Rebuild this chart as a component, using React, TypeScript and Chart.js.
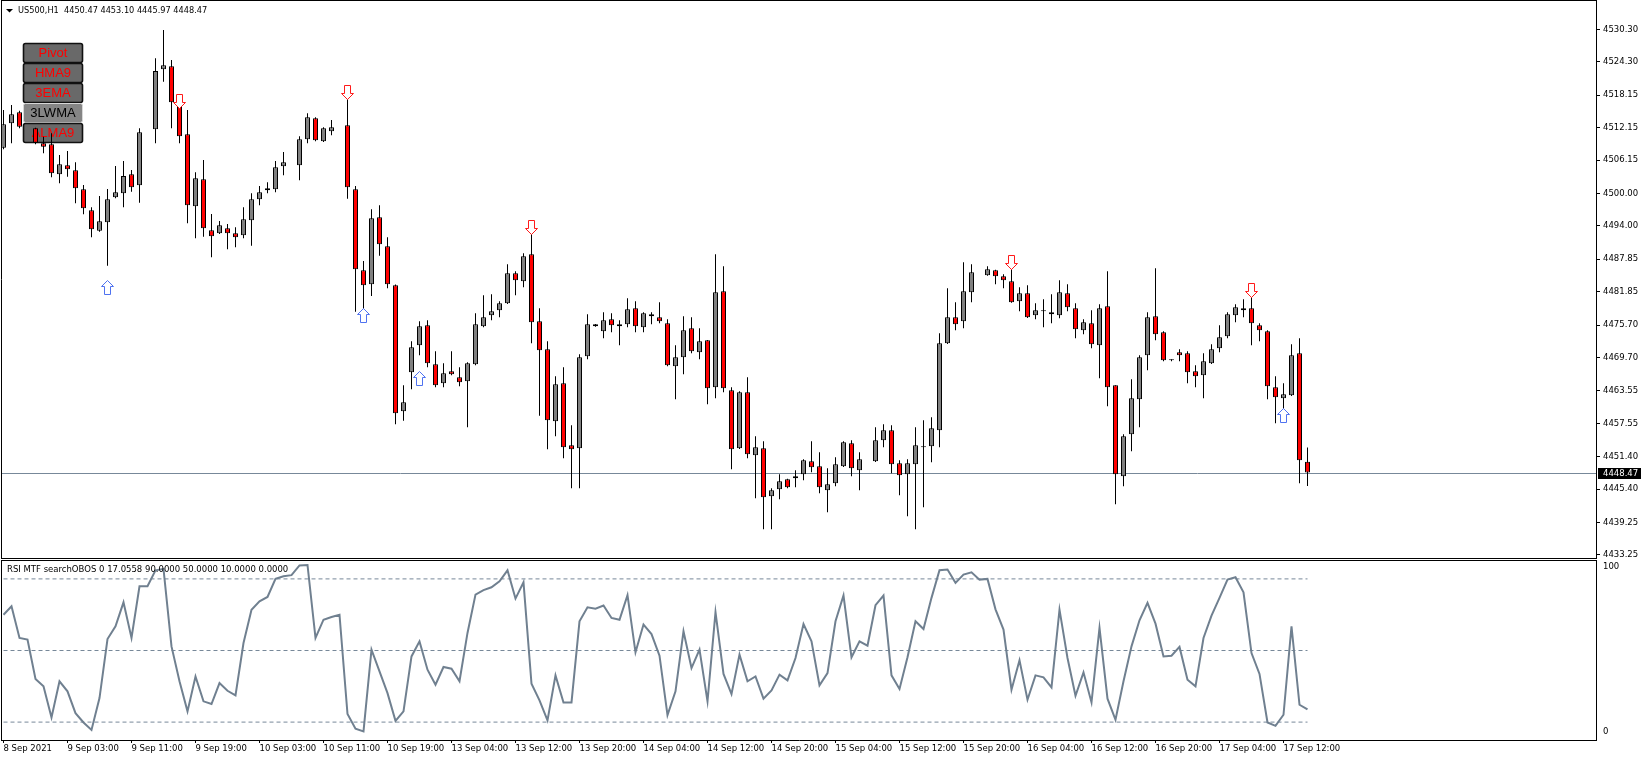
import React, { useEffect, useRef } from 'react';
import { Chart, registerables } from 'chart.js';
Chart.register(...registerables);

const FONT = '"DejaVu Sans", "Noto Sans", sans-serif';
const W = 1646;
const AXIS_W = 50;
const MAIN_H = 559;
const RSI_TOP = 559;
const RSI_H = 202;

const chartTitle = 'US500,H1  4450.47 4453.10 4445.97 4448.47';
const rsiTitle = 'RSI MTF searchOBOS 0 17.0558 90.0000 50.0000 10.0000 0.0000';

const LABEL_STEP = 8;
const timeLabels = [
  '8 Sep 2021', '9 Sep 03:00', '9 Sep 11:00', '9 Sep 19:00', '10 Sep 03:00', '10 Sep 11:00',
  '10 Sep 19:00', '13 Sep 04:00', '13 Sep 12:00', '13 Sep 20:00', '14 Sep 04:00', '14 Sep 12:00',
  '14 Sep 20:00', '15 Sep 04:00', '15 Sep 12:00', '15 Sep 20:00', '16 Sep 04:00', '16 Sep 12:00',
  '16 Sep 20:00', '17 Sep 04:00', '17 Sep 12:00',
];

const priceTicks = [4530.30, 4524.30, 4518.15, 4512.15, 4506.15, 4500.00, 4494.00, 4487.85, 4481.85,
  4475.70, 4469.70, 4463.55, 4457.55, 4451.40, 4445.40, 4439.25, 4433.25];
const priceMin = 4432.68;
const priceMax = 4535.55;

// H1 candles (null = doji drawn invisibly in the source)
const opens = [
  4508.46, 4512.96, 4514.99, null, 4512.03, 4509.26, 4509.08, 4503.54, 4505.20, 4504.28,
  4500.77, 4496.89, 4493.14, 4494.67, 4499.29, 4500.03, 4503.54, 4501.51, null, 4511.85,
  4522.93, 4523.48, 4517.20, 4510.93, 4497.63, 4502.62, 4493.20, 4492.64, 4493.57, 4492.64,
  4492.27, 4495.04, 4498.92, 4500.58, 4500.77, 4505.02, null, 4505.20, 4510.00, 4513.88,
  4509.63, 4511.48, null, 4512.59, 4500.77, 4485.81, 4483.22, 4495.60, 4490.24, 4483.04,
  4459.77, 4466.97, 4471.96, 4475.65, 4468.45, 4464.94, 4467.16, 4466.05, 4465.31, 4468.45,
  4475.47, 4477.50, 4478.42, 4479.72, 4485.26, 4483.78, 4488.77, 4476.39, 4471.22, 4457.93,
  4464.94, 4453.49, 4452.94, 4469.93, 4475.84, 4474.55, 4476.76, 4475.84, 4475.84, 4478.79,
  4475.28, 4477.68, 4477.13, 4476.02, 4468.08, 4469.74, 4475.10, 4470.67, 4472.88, 4464.20,
  4481.93, 4463.65, 4452.94, 4463.28, 4451.65, 4452.94, 4444.07, 4445.37, 4447.21, 4447.40,
  4448.14, 4450.54, 4449.62, 4445.18, 4446.48, 4449.62, 4453.86, 4448.88, null, 4450.54,
  4454.42, 4456.26, 4450.17, 4448.14, 4449.98, 4453.12, 4453.31, 4456.26, 4472.33, 4477.13,
  4476.39, 4481.75, null, 4484.89, 4485.81, 4484.70, 4483.78, 4480.09, 4481.56, 4477.50,
  4478.42, 4478.05, 4477.50, 4481.56, 4478.79, 4474.73, 4476.02, 4471.96, 4479.16, 4464.57,
  4447.77, 4455.52, 4461.99, 4470.11, 4477.31, 4474.36, 4469.37, 4470.67, 4470.48, 4467.16,
  4466.42, 4468.64, 4471.41, 4473.62, 4477.50, 4478.79, 4478.79, 4475.65, 4474.55, 4464.20,
  4462.17, 4462.73, 4470.48, 4450.47,
];
const highs = [
  4515.42, 4516.34, 4515.30, null, 4512.16, 4510.49, 4511.11, 4507.11, 4507.85, 4505.76,
  4501.57, 4497.44, 4499.54, 4500.83, 4505.08, 4506.00, 4504.34, 4512.03, null, 4524.96,
  4530.19, 4524.65, 4517.57, 4515.42, 4503.91, 4506.19, 4496.21, 4494.92, 4494.37, 4493.75,
  4497.44, 4500.03, 4501.38, 4502.06, 4506.00, 4507.66, null, 4510.56, 4514.80, 4514.07,
  4512.22, 4513.57, null, 4519.30, 4501.38, 4487.53, 4497.08, 4497.81, 4491.91, 4483.20,
  4464.57, 4472.70, 4476.39, 4476.58, 4470.85, 4468.64, 4470.85, 4467.90, 4468.82, 4477.87,
  4481.19, 4481.38, 4480.09, 4486.92, 4485.63, 4488.95, 4493.57, 4478.79, 4472.70, 4466.24,
  4467.90, 4457.19, 4470.30, 4477.68, 4475.90, 4478.05, 4477.87, 4476.58, 4480.64, 4480.09,
  4478.05, 4478.05, 4479.90, 4476.76, 4471.96, 4477.31, 4477.13, 4475.10, 4472.95, 4488.77,
  4486.55, 4464.20, 4463.46, 4466.05, 4455.16, 4454.23, 4445.55, 4448.14, 4447.30, 4448.88,
  4450.91, 4454.23, 4452.20, 4449.24, 4451.28, 4454.23, 4454.42, 4452.20, null, 4456.82,
  4457.37, 4457.19, 4450.72, 4450.91, 4456.82, 4458.11, 4458.66, 4474.18, 4482.49, 4479.90,
  4487.29, 4486.92, null, 4486.55, 4485.90, 4485.07, 4487.29, 4482.67, 4483.04, 4479.72,
  4480.45, 4481.38, 4483.96, 4483.22, 4479.72, 4476.76, 4478.42, 4479.53, 4485.63, 4464.60,
  4455.52, 4465.68, 4470.11, 4478.05, 4486.18, 4474.55, 4469.40, 4471.22, 4470.85, 4468.27,
  4470.48, 4472.14, 4475.65, 4478.05, 4479.53, 4480.45, 4481.56, 4476.02, 4474.73, 4466.24,
  4464.94, 4472.14, 4473.25, 4453.10,
];
const lows = [
  4508.16, 4509.26, 4512.03, null, 4509.08, 4507.42, 4502.98, 4501.88, 4503.11, 4498.18,
  4496.15, 4491.91, 4492.95, 4486.67, 4499.10, 4497.44, 4500.34, 4498.31, null, 4509.26,
  4520.65, 4512.03, 4509.26, 4494.49, 4491.72, 4492.03, 4488.21, 4492.50, 4489.69, 4490.06,
  4491.72, 4490.37, 4497.81, 4500.03, 4500.21, 4503.35, null, 4502.43, 4509.26, 4509.63,
  4509.50, 4510.74, null, 4499.05, 4478.18, 4477.25, 4481.07, 4488.52, 4482.49, 4457.37,
  4458.05, 4463.83, 4470.11, 4467.90, 4464.20, 4464.20, 4466.42, 4464.39, 4456.82, 4468.30,
  4475.30, 4476.58, 4477.13, 4479.60, 4481.19, 4482.67, 4472.33, 4458.97, 4452.75, 4455.16,
  4451.09, 4445.55, 4445.55, 4469.37, 4475.40, 4473.25, 4474.36, 4471.96, 4475.30, 4474.36,
  4474.36, 4475.84, 4476.02, 4468.08, 4461.99, 4466.60, 4470.48, 4469.37, 4461.06, 4462.17,
  4463.28, 4449.06, 4452.80, 4451.09, 4443.71, 4437.98, 4437.98, 4443.52, 4445.55, 4445.74,
  4447.03, 4448.51, 4444.63, 4441.12, 4445.92, 4449.50, 4447.77, 4445.18, null, 4450.40,
  4453.12, 4448.32, 4444.26, 4440.38, 4437.98, 4442.04, 4450.35, 4453.12, 4472.20, 4474.73,
  4475.10, 4479.90, null, 4484.80, 4483.22, 4482.49, 4479.80, 4478.24, 4477.00, 4476.76,
  4475.28, 4476.02, 4476.95, 4478.24, 4473.25, 4473.99, 4471.41, 4465.87, 4460.69, 4442.60,
  4445.92, 4452.38, 4456.82, 4467.34, 4472.88, 4469.01, 4469.01, 4469.01, 4464.94, 4464.20,
  4462.17, 4468.50, 4470.67, 4473.25, 4476.21, 4477.13, 4471.96, 4472.70, 4461.99, 4457.56,
  4459.59, 4462.60, 4446.48, 4445.97,
];
const closes = [
  4512.77, 4514.62, 4512.34, null, 4509.39, 4508.65, 4503.72, 4505.39, 4504.46, 4500.95,
  4497.26, 4493.38, 4494.86, 4498.92, 4500.21, 4503.23, 4501.14, 4511.30, null, 4522.62,
  4523.67, 4516.84, 4510.56, 4497.81, 4502.80, 4493.57, 4492.09, 4494.12, 4492.64, 4491.91,
  4495.23, 4498.92, 4500.21, 4500.95, 4504.83, 4505.76, null, 4510.00, 4514.07, 4509.82,
  4512.03, 4512.22, null, 4501.14, 4486.00, 4483.04, 4495.41, 4490.61, 4483.22, 4459.40,
  4461.43, 4471.59, 4475.47, 4468.64, 4464.57, 4466.79, 4466.60, 4465.13, 4468.64, 4475.84,
  4477.13, 4478.24, 4479.72, 4485.26, 4483.96, 4488.40, 4476.21, 4471.04, 4458.11, 4464.76,
  4453.12, 4452.75, 4469.74, 4475.84, 4475.47, 4476.58, 4475.65, 4475.47, 4478.61, 4475.47,
  4477.87, 4477.31, 4476.39, 4468.27, 4469.74, 4474.73, 4470.85, 4472.70, 4464.02, 4481.75,
  4464.02, 4452.75, 4463.28, 4451.83, 4453.12, 4443.89, 4445.18, 4446.85, 4445.74, 4447.77,
  4450.72, 4449.43, 4445.74, 4446.29, 4449.98, 4454.05, 4449.24, 4450.91, null, 4454.42,
  4456.26, 4449.98, 4447.95, 4450.17, 4453.49, 4453.31, 4456.63, 4472.33, 4477.13, 4475.84,
  4481.93, 4485.44, null, 4486.00, 4484.70, 4483.96, 4479.90, 4481.56, 4477.13, 4478.42,
  4478.24, 4477.68, 4481.75, 4478.98, 4474.92, 4476.21, 4472.14, 4478.79, 4464.20, 4448.14,
  4455.16, 4462.17, 4469.74, 4477.13, 4474.00, 4469.19, 4469.19, 4470.11, 4466.97, 4466.24,
  4469.01, 4471.22, 4473.44, 4477.68, 4478.98, 4478.42, 4476.02, 4474.73, 4464.39, 4462.36,
  4462.91, 4470.11, 4450.72, 4448.47,
];

const rsi = [
  70.0, 74.7, 57.0, 56.1, 34.1, 30.0, 12.6, 32.8, 27.2, 15.0,
  9.8, 5.6, 23.4, 56.4, 63.5, 76.9, 57.0, 85.9, 85.9, 94.8,
  95.6, 52.3, 32.8, 16.0, 35.5, 21.6, 20.1, 31.8, 27.5, 24.9,
  54.2, 72.8, 77.5, 79.9, 90.0, 91.5, 92.1, 97.5, 97.8, 57.0,
  67.2, 68.7, 70.0, 14.5, 6.3, 4.8, 50.5, 38.3, 26.2, 10.7,
  16.0, 46.7, 55.1, 39.3, 30.9, 40.8, 39.8, 32.8, 59.8, 81.2,
  83.7, 85.3, 88.7, 94.8, 79.0, 88.1, 31.4, 22.1, 10.9, 36.1,
  21.0, 21.0, 66.3, 74.1, 73.4, 75.1, 68.2, 67.2, 80.9, 49.0,
  64.5, 59.2, 47.1, 13.9, 27.2, 60.7, 40.2, 50.5, 21.6, 71.4,
  36.9, 25.7, 47.7, 32.8, 35.5, 23.1, 27.7, 36.5, 33.3, 45.8,
  64.8, 55.1, 30.5, 37.4, 66.3, 80.7, 46.2, 55.1, 52.7, 75.3,
  80.7, 36.1, 28.5, 46.2, 66.3, 62.0, 79.4, 94.8, 95.2, 87.8,
  92.4, 93.7, 89.6, 90.0, 73.0, 61.7, 28.1, 44.5, 22.5, 36.1,
  35.0, 29.4, 72.8, 45.8, 24.7, 37.8, 21.0, 62.6, 23.1, 11.3,
  32.8, 52.3, 66.9, 76.6, 65.0, 46.7, 47.1, 52.0, 33.7, 30.0,
  57.0, 69.5, 79.4, 89.6, 90.9, 82.5, 48.6, 36.9, 9.8, 7.9,
  14.1, 63.5, 19.7, 17.06,
];
const rsiLevels = [90, 50, 10];
const rsiAxisLabels = ['100', '0'];

// signal arrows: bar index and price at the top of the glyph
const downArrowBars = [22, 43, 66, 126, 156];
const downArrowPrices = [4518.37, 4520.03, 4495.10, 4488.64, 4483.41];
const upArrowBars = [13, 45, 52, 160];
const upArrowPrices = [4484.02, 4478.79, 4467.22, 4460.32];

const buttonLabels = ['Pivot', 'HMA9', '3EMA', '3LWMA', 'ALMA9'];
const buttonActive = [false, false, false, true, false];

const BULL = '#808080';
const BEAR = '#ff0000';
const SLATE = '#778899';

// view window of the time axis (bar index units)
const X_MIN = -0.1875;
const X_MAX = 199.0625;

function drawArrow(ctx: CanvasRenderingContext2D, cx: number, top: number, down: boolean, color: string) {
  const c = Math.round(cx - 0.5) + 0.5;
  const t = Math.round(top) + 0.5;
  ctx.beginPath();
  if (down) {
    ctx.moveTo(c - 3, t); ctx.lineTo(c + 3, t); ctx.lineTo(c + 3, t + 8); ctx.lineTo(c + 6, t + 8);
    ctx.lineTo(c, t + 14); ctx.lineTo(c - 6, t + 8); ctx.lineTo(c - 3, t + 8); ctx.closePath();
  } else {
    ctx.moveTo(c, t); ctx.lineTo(c + 6, t + 6); ctx.lineTo(c + 3, t + 6); ctx.lineTo(c + 3, t + 14);
    ctx.lineTo(c - 3, t + 14); ctx.lineTo(c - 3, t + 6); ctx.lineTo(c - 6, t + 6); ctx.closePath();
  }
  ctx.fillStyle = '#ffffff';
  ctx.fill();
  ctx.strokeStyle = color;
  ctx.lineWidth = 1;
  ctx.stroke();
}

export default function App() {
  const mainRef = useRef<HTMLCanvasElement>(null);
  const rsiRef = useRef<HTMLCanvasElement>(null);

  useEffect(() => {
    Chart.defaults.font.family = FONT;
    const last = closes.length - 1;
    const idx = opens.map((_, i) => i).filter((i) => opens[i] != null);
    const wickData = idx.map((i) => ({ x: i, y: [lows[i], highs[i]] }));
    const bodyData = idx.map((i) => ({ x: i, y: [opens[i], closes[i]] }));
    const bodyColors = idx.map((i) => ((closes[i] as number) >= (opens[i] as number) ? BULL : BEAR));

    const mainPlugin = {
      id: 'mt4main',
      beforeDatasetsDraw(chart: any) {
        const { ctx, chartArea: a, scales } = chart;
        const y = scales.y;
        ctx.save();
        // bid line
        const yb = Math.round(y.getPixelForValue(closes[last])) + 0.5;
        ctx.strokeStyle = SLATE;
        ctx.lineWidth = 1;
        ctx.beginPath();
        ctx.moveTo(a.left, yb);
        ctx.lineTo(a.right, yb);
        ctx.stroke();
        // buttons
        buttonLabels.forEach((lab, k) => {
          const bx = 23, by = 43 + 20 * k, bw = 59, bh = 19;
          ctx.beginPath();
          ctx.roundRect(bx + 0.5, by + 0.5, bw, bh, 2);
          ctx.fillStyle = buttonActive[k] ? '#858585' : '#696969';
          ctx.fill();
          ctx.lineWidth = buttonActive[k] ? 1 : 1.6;
          ctx.strokeStyle = buttonActive[k] ? '#d8d8d8' : '#111111';
          ctx.stroke();
          ctx.fillStyle = buttonActive[k] ? '#000000' : '#ff0000';
          ctx.font = '13px "Liberation Sans", Arial, sans-serif';
          ctx.textAlign = 'center';
          ctx.textBaseline = 'middle';
          ctx.fillText(lab, bx + bw / 2 + 0.5, by + bh / 2 + 1);
        });
        ctx.restore();
      },
      afterDatasetsDraw(chart: any) {
        const { ctx, scales } = chart;
        const x = scales.x, y = scales.y;
        ctx.save();
        downArrowBars.forEach((b, k) => drawArrow(ctx, x.getPixelForValue(b), y.getPixelForValue(downArrowPrices[k]), true, '#ff1a1a'));
        upArrowBars.forEach((b, k) => drawArrow(ctx, x.getPixelForValue(b), y.getPixelForValue(upArrowPrices[k]), false, '#4f72f0'));
        ctx.restore();
      },
      afterDraw(chart: any) {
        const { ctx, chartArea: a, scales } = chart;
        const y = scales.y;
        ctx.save();
        // frame
        ctx.strokeStyle = '#000';
        ctx.lineWidth = 1;
        ctx.beginPath();
        ctx.moveTo(1.5, 0);
        ctx.lineTo(1.5, a.bottom + 1);
        ctx.moveTo(1, 0.5);
        ctx.lineTo(a.right + 1, 0.5);
        ctx.moveTo(1, a.bottom + 0.5);
        ctx.lineTo(a.right + 1, a.bottom + 0.5);
        ctx.stroke();
        // title
        ctx.fillStyle = '#000';
        ctx.beginPath();
        ctx.moveTo(6, 9);
        ctx.lineTo(13, 9);
        ctx.lineTo(9.5, 12.5);
        ctx.closePath();
        ctx.fill();
        ctx.font = `8.2px ${FONT}`;
        ctx.textAlign = 'left';
        ctx.textBaseline = 'middle';
        ctx.fillText(chartTitle, 18, 11);
        // current price label
        ctx.font = `8.5px ${FONT}`;
        const yb = y.getPixelForValue(closes[last]);
        ctx.fillStyle = '#000';
        ctx.fillRect(a.right + 2, Math.round(yb) - 5, 43, 11);
        ctx.fillStyle = '#fff';
        ctx.fillText((closes[last] as number).toFixed(2), a.right + 7, Math.round(yb) + 0.5);
        ctx.restore();
      },
    };

    const main = new Chart(mainRef.current as HTMLCanvasElement, {
      type: 'bar',
      data: {
        datasets: [
          {
            data: bodyData as any,
            backgroundColor: bodyColors,
            borderColor: '#000',
            borderWidth: 1,
            borderSkipped: false,
            barThickness: 5,
            grouped: false,
            minBarLength: 1,
            inflateAmount: 0,
            order: 0,
          } as any,
          {
            data: wickData as any,
            backgroundColor: '#000',
            borderWidth: 0,
            barThickness: 1,
            grouped: false,
            inflateAmount: 0,
            order: 1,
          } as any,
        ],
      },
      options: {
        responsive: false,
        animation: false,
        events: [],
        layout: { padding: { left: 2, top: 1, bottom: 1, right: 0 } },
        plugins: { legend: { display: false }, tooltip: { enabled: false } },
        scales: {
          x: { type: 'linear', min: X_MIN, max: X_MAX, display: false, offset: false, grid: { offset: false } },
          y: {
            type: 'linear',
            position: 'right',
            min: priceMin,
            max: priceMax,
            afterFit: (s: any) => { s.width = AXIS_W; s.paddingTop = 0; s.paddingBottom = 0; },
            afterBuildTicks: (s: any) => { s.ticks = priceTicks.map((v) => ({ value: v })); },
            grid: { drawOnChartArea: false, drawTicks: true, tickLength: 4, color: '#000', tickColor: '#000' },
            border: { display: true, color: '#000', width: 1 },
            ticks: {
              color: '#000',
              padding: 3,
              font: { family: FONT, size: 8.5 },
              callback: (v: any) => Number(v).toFixed(2),
            },
          },
        },
      } as any,
      plugins: [mainPlugin],
    });

    const rsiData = rsi.map((v, i) => ({ x: i, y: v }));
    const levelSets = rsiLevels.map((lv) => ({
      type: 'line',
      data: [{ x: 0, y: lv }, { x: last, y: lv }],
      borderColor: SLATE,
      borderWidth: 1,
      borderDash: [4, 3],
      pointRadius: 0,
      order: 2,
    }));

    const rsiPlugin = {
      id: 'mt4rsi',
      afterDraw(chart: any) {
        const { ctx, chartArea: a, scales } = chart;
        const y = scales.y;
        ctx.save();
        ctx.strokeStyle = '#000';
        ctx.lineWidth = 1;
        ctx.beginPath();
        ctx.moveTo(1, a.top - 0.5);
        ctx.lineTo(a.right + 1, a.top - 0.5);
        ctx.moveTo(1.5, a.top - 1);
        ctx.lineTo(1.5, a.bottom + 1);
        ctx.stroke();
        ctx.fillStyle = '#000';
        ctx.font = `8.5px ${FONT}`;
        ctx.textAlign = 'left';
        ctx.textBaseline = 'middle';
        ctx.fillText(rsiTitle, 7, 10.5);
        ctx.fillText(rsiAxisLabels[0], a.right + 7, y.getPixelForValue(100) + 6);
        ctx.fillText(rsiAxisLabels[1], a.right + 7, y.getPixelForValue(0) - 8);
        ctx.restore();
      },
    };

    const rsiChart = new Chart(rsiRef.current as HTMLCanvasElement, {
      type: 'line',
      data: {
        datasets: [
          {
            data: rsiData,
            borderColor: '#708090',
            borderWidth: 2,
            pointRadius: 0,
            tension: 0,
            order: 0,
          } as any,
          ...(levelSets as any),
        ],
      },
      options: {
        responsive: false,
        animation: false,
        events: [],
        layout: { padding: { left: 2, top: 2, bottom: 0, right: 0 } },
        plugins: { legend: { display: false }, tooltip: { enabled: false } },
        scales: {
          x: {
            type: 'linear',
            min: X_MIN,
            max: X_MAX,
            offset: false,
            afterFit: (s: any) => { s.height = 21; s.paddingLeft = 0; s.paddingRight = 0; },
            afterBuildTicks: (s: any) => { s.ticks = timeLabels.map((_, k) => ({ value: k * LABEL_STEP })); },
            grid: { drawOnChartArea: false, drawTicks: true, tickLength: 3, color: '#000', tickColor: '#000' },
            border: { display: true, color: '#000', width: 1 },
            ticks: {
              autoSkip: false,
              maxRotation: 0,
              minRotation: 0,
              align: 'start',
              padding: 1,
              color: '#000',
              font: { family: FONT, size: 8.5 },
              callback: (_v: any, i: number) => timeLabels[i],
            },
          },
          y: {
            type: 'linear',
            position: 'right',
            min: 0,
            max: 100,
            afterFit: (s: any) => { s.width = AXIS_W; s.paddingTop = 0; s.paddingBottom = 0; },
            grid: { display: false, drawTicks: false },
            border: { display: true, color: '#000', width: 1 },
            ticks: { display: false },
          },
        },
      } as any,
      plugins: [rsiPlugin],
    });

    return () => {
      main.destroy();
      rsiChart.destroy();
    };
  }, []);

  return (
    <div style={{ position: 'fixed', left: 0, top: 0, width: W, height: 761, background: '#fff', overflow: 'hidden' }}>
      <canvas ref={mainRef} width={W} height={MAIN_H} style={{ position: 'absolute', left: 0, top: 0, width: W, height: MAIN_H }} />
      <canvas ref={rsiRef} width={W} height={RSI_H} style={{ position: 'absolute', left: 0, top: RSI_TOP, width: W, height: RSI_H }} />
    </div>
  );
}
